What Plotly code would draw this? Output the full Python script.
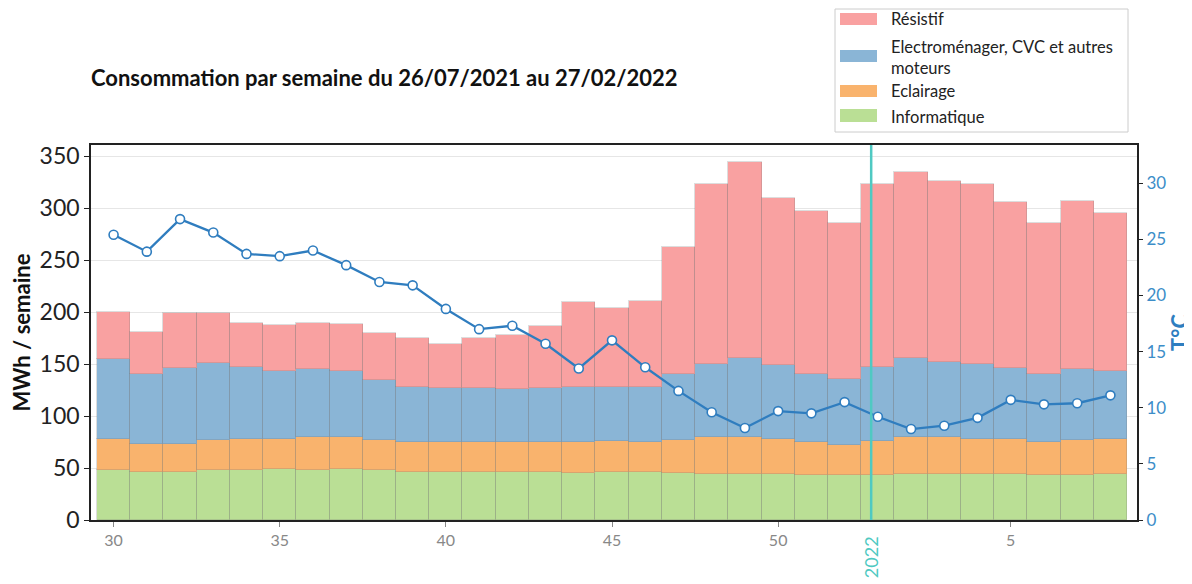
import plotly.graph_objects as go

# semaines (2021 puis 2022)
weeks = ["30", "31", "32", "33", "34", "35", "36", "37", "38", "39", "40", "41",
         "42", "43", "44", "45", "46", "47", "48", "49", "50", "51", "52",
         "1", "2", "3", "4", "5", "6", "7", "8"]

# MWh / semaine par usage
informatique = [48, 46, 46, 48, 48, 49, 48, 49, 48, 46, 46, 46, 46, 46, 45, 46,
                46, 45.5, 44.5, 44.5, 44.5, 43.5, 43.5, 43.5, 44.5, 44.5, 44.5,
                44.5, 43.5, 43.5, 44.5]
eclairage = [30, 27.5, 27.5, 29, 30, 29, 31.5, 30.5, 29, 29, 29, 29, 29, 29, 30,
             30.5, 29, 31.5, 35, 35, 33.5, 31.5, 28.5, 33, 35, 35, 33.5, 33.5,
             31.5, 33.5, 33.5]
electro = [77, 67, 73, 74, 69.5, 65.5, 65.5, 64, 58, 53.5, 52, 52, 51, 52, 53.5,
           52, 53.5, 64, 71, 76.5, 71, 65.5, 64, 71, 76.5, 72.5, 72.5, 68, 65.5,
           68, 65.5]
resistif = [45, 40.5, 52.5, 48, 42.5, 44, 45, 45, 45, 46.5, 42.5, 48, 52, 59.5,
            81.5, 75.5, 82.5, 121.5, 172.5, 188.5, 161, 156.5, 149.5, 175.5, 179,
            174, 172.5, 160, 145, 162.5, 152]

# temperature moyenne hebdo
temperature = [25.4, 23.9, 26.8, 25.6, 23.7, 23.5, 24.0, 22.7, 21.2, 20.9, 18.8,
               17.0, 17.3, 15.7, 13.5, 16.0, 13.6, 11.5, 9.6, 8.2, 9.7, 9.5, 10.5,
               9.2, 8.1, 8.4, 9.1, 10.7, 10.3, 10.4, 11.1]

tick_weeks = ["30", "35", "40", "45", "50", "5"]

FONT = "Lato"
W, H = 1192, 584
OFF = 8  # marge du body html
L, R, T, B = 83, 63, 137, 72


def px(x):
    return (x - OFF - L) / (W - L - R)


def py(y):
    return (H - B - (y - OFF)) / (H - T - B)


fig = go.Figure()

series = [
    ("Informatique", informatique, "#BADF95"),
    ("Eclairage", eclairage, "#F9B36D"),
    ("Electroménager, CVC et autres<br>moteurs", electro, "#8AB5D6"),
    ("Résistif", resistif, "#F9A1A1"),
]
for name, vals, col in series:
    fig.add_trace(go.Bar(x=weeks, y=vals, name=name,
                         marker=dict(color=col, line=dict(color="rgba(120,120,120,0.25)", width=1))))

fig.add_trace(go.Scatter(x=weeks, y=temperature, yaxis="y2", mode="lines+markers",
                         line=dict(color="#2F7DBF", width=2.3),
                         marker=dict(size=9, color="white", line=dict(color="#2F7DBF", width=1.6))))

fig.update_layout(
    width=W, height=H,
    margin=dict(l=L, r=R, t=T, b=B),
    barmode="stack", bargap=0,
    showlegend=False,
    plot_bgcolor="white", paper_bgcolor="white",
    font=dict(family=FONT, color="#222"),
    xaxis=dict(type="category", range=[-0.68, 30.8], tickmode="array", tickvals=tick_weeks,
               ticks="outside", ticklen=5, tickcolor="#888", tickfont=dict(size=16, color="#888"),
               showline=True, linecolor="#222", linewidth=1.5, mirror=True, showgrid=False,
               automargin=False),
    yaxis=dict(range=[0, 361], dtick=50, ticks="outside", ticklen=5, tickcolor="#222",
               tickfont=dict(size=23, color="#222"), showline=True, linecolor="#222",
               linewidth=1.5, mirror=True, gridcolor="#E6E6E6", zeroline=False, automargin=False,
               title=dict(text="<b>MWh / semaine</b>", font=dict(size=22, color="#111"), standoff=8)),
    yaxis2=dict(range=[0, 33.4], dtick=5, overlaying="y", side="right", showgrid=False,
                zeroline=False, ticks="outside", ticklen=5, tickcolor="#222", automargin=False,
                tickfont=dict(size=17, color="#3C8DC8"),
                title=dict(text="<b>T°C</b>", font=dict(size=22, color="#2E7EC0"), standoff=4)),
)

# repere nouvelle annee
fig.add_shape(type="line", xref="x", yref="paper", x0=22.8, x1=22.8, y0=0, y1=1,
              line=dict(color="#4FC9C2", width=2.5))
fig.add_annotation(x=22.8, xref="x", y=0, yref="paper", yanchor="top", yshift=-14,
                   text="2022", textangle=-90, showarrow=False,
                   font=dict(size=18, color="#4FC9C2"))

# titre
fig.add_annotation(x=px(89), y=py(78), xref="paper", yref="paper", xanchor="left",
                   yanchor="middle", showarrow=False,
                   text="<b>Consommation par semaine du 26/07/2021 au 27/02/2022</b>",
                   font=dict(size=22, color="#111"))

# legende
fig.add_shape(type="rect", xref="paper", yref="paper", x0=px(835), x1=px(1128),
              y0=py(132), y1=py(9), line=dict(color="#CCCCCC", width=1), fillcolor="white")
legend_items = [
    ("Résistif", "#F9A1A1", 13, 25, 19),
    ("Electroménager, CVC et autres<br>moteurs", "#8AB5D6", 50, 62, 57),
    ("Eclairage", "#F9B36D", 85, 97, 91),
    ("Informatique", "#BADF95", 109, 122, 117),
]
for label, col, y_top, y_bot, y_txt in legend_items:
    fig.add_shape(type="rect", xref="paper", yref="paper", x0=px(840), x1=px(877),
                  y0=py(y_bot), y1=py(y_top), line=dict(width=0), fillcolor=col)
    fig.add_annotation(x=px(889), y=py(y_txt), xref="paper", yref="paper", xanchor="left",
                       yanchor="middle", align="left", showarrow=False, text=label,
                       font=dict(size=16.5, color="#222"))

fig.write_html("out.html")
